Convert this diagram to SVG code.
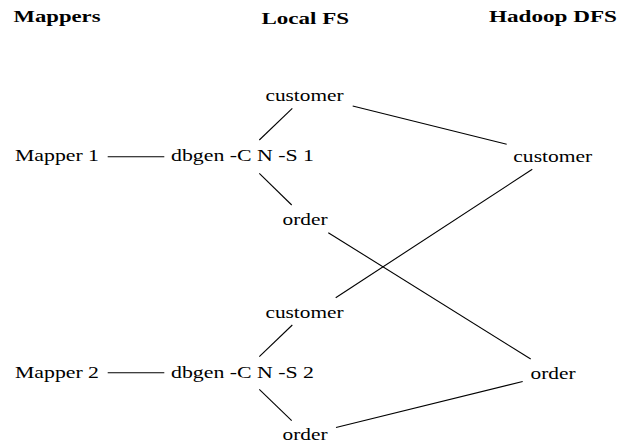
<svg xmlns="http://www.w3.org/2000/svg" width="633" height="445" viewBox="0 0 633 445" font-family="'Liberation Serif', 'DejaVu Serif', serif">
<style>
text{font-family:'Liberation Serif','DejaVu Serif',serif;font-size:16.5px;fill:#000}
.h{font-weight:bold}
#connectors line{stroke:#000;stroke-width:1.1;fill:none}
</style>
<rect width="633" height="445" fill="#fff"/>
<g id="headings">
<text class="h" x="13.5" y="21.5" textLength="87" lengthAdjust="spacingAndGlyphs">Mappers</text>
<text class="h" x="261.5" y="24" textLength="87.5" lengthAdjust="spacingAndGlyphs">Local FS</text>
<text class="h" x="489" y="22" textLength="128" lengthAdjust="spacingAndGlyphs">Hadoop DFS</text>
</g>
<g id="mapper1"><text x="15" y="161" textLength="84" lengthAdjust="spacingAndGlyphs">Mapper 1</text></g>
<g id="dbgen1"><text x="171" y="161" textLength="143" lengthAdjust="spacingAndGlyphs">dbgen -C N -S 1</text></g>
<g id="local-customer1"><text x="265.5" y="100.5" textLength="78" lengthAdjust="spacingAndGlyphs">customer</text></g>
<g id="local-order1"><text x="282.5" y="225" textLength="45" lengthAdjust="spacingAndGlyphs">order</text></g>
<g id="mapper2"><text x="15" y="377.7" textLength="84" lengthAdjust="spacingAndGlyphs">Mapper 2</text></g>
<g id="dbgen2"><text x="171" y="377.7" textLength="143" lengthAdjust="spacingAndGlyphs">dbgen -C N -S 2</text></g>
<g id="local-customer2"><text x="265.5" y="318.3" textLength="78" lengthAdjust="spacingAndGlyphs">customer</text></g>
<g id="local-order2"><text x="282.5" y="440" textLength="45" lengthAdjust="spacingAndGlyphs">order</text></g>
<g id="dfs-customer"><text x="513.3" y="161.7" textLength="79" lengthAdjust="spacingAndGlyphs">customer</text></g>
<g id="dfs-order"><text x="530.5" y="379" textLength="45" lengthAdjust="spacingAndGlyphs">order</text></g>
<g id="connectors">
<line x1="107.7" y1="156.7" x2="164.3" y2="156.7"/>
<line x1="292.3" y1="108.3" x2="259.3" y2="140"/>
<line x1="259.3" y1="173.3" x2="291.7" y2="205"/>
<line x1="352.7" y1="106" x2="506.7" y2="144.3"/>
<line x1="532.3" y1="169.3" x2="335.7" y2="297.7"/>
<line x1="328.3" y1="232.7" x2="530.7" y2="359"/>
<line x1="107.7" y1="372.7" x2="164.3" y2="372.7"/>
<line x1="292.3" y1="325" x2="259.3" y2="356.7"/>
<line x1="259.3" y1="389.3" x2="291.7" y2="420.7"/>
<line x1="522.7" y1="381.5" x2="336" y2="427.5"/>
</g>
</svg>
